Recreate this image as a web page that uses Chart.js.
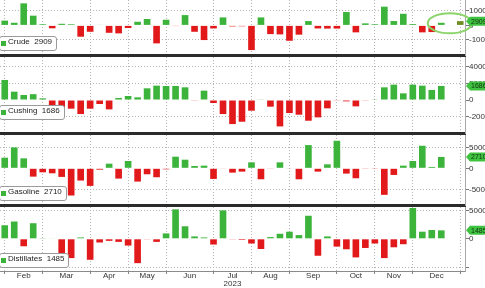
<!DOCTYPE html>
<html>
<head>
<meta charset="utf-8">
<script src="https://cdn.jsdelivr.net/npm/chart.js@4.4.1/dist/chart.umd.min.js"></script>
<style>
html, body { margin: 0; padding: 0; background: #fff; width: 485px; height: 288px; overflow: hidden; }
.panel { position: absolute; left: 0; width: 500px; }
.lg { position: absolute; left: -1px; height: 13px; line-height: 13px; padding: 0 4px 0 8px;
      background: #fff; border: 1px solid #9a9a9a; border-radius: 3px; z-index: 5;
      font: 8px "Liberation Sans", Arial, sans-serif; color: #222; white-space: nowrap; }
.lg i { position: absolute; left: 1px; top: 4px; width: 5px; height: 5px; background: #3cb43c; }
</style>
</head>
<body>
<div class="panel" id="p0" style="top:0;height:58px"><canvas id="c0"></canvas></div>
<div class="panel" id="p1" style="top:57px;height:79px"><canvas id="c1"></canvas></div>
<div class="panel" id="p2" style="top:135px;height:73px"><canvas id="c2"></canvas></div>
<div class="panel" id="p3" style="top:207px;height:81px"><canvas id="c3"></canvas></div>
<script>
// --- data: weekly EIA inventory changes (thousand barrels) ---
const weeks = [
  '2023-01-27','2023-02-03','2023-02-10','2023-02-17','2023-02-24','2023-03-03','2023-03-10',
  '2023-03-17','2023-03-24','2023-03-31','2023-04-07','2023-04-14','2023-04-21','2023-04-28',
  '2023-05-05','2023-05-12','2023-05-19','2023-05-26','2023-06-02','2023-06-09','2023-06-16',
  '2023-06-23','2023-06-30','2023-07-07','2023-07-14','2023-07-21','2023-07-28','2023-08-04',
  '2023-08-11','2023-08-18','2023-08-25','2023-09-01','2023-09-08','2023-09-15','2023-09-22',
  '2023-09-29','2023-10-06','2023-10-13','2023-10-20','2023-10-27','2023-11-03','2023-11-10',
  '2023-11-17','2023-11-24','2023-12-01','2023-12-08','2023-12-15','2023-12-22','2023-12-29'
];
const monthNames = ['Feb','Mar','Apr','May','Jun','Jul','Aug','Sep','Oct','Nov','Dec'];
const yearLabel = '2023';
const yearUnder = 'Jul';

const crude = [3300, 1800, 15200, 6700, 800, -2000, 1100, 800, -7800, -4400,
  400, -5100, -5500, -1800, 2500, 4400, -12400, 3900, -450, 7100,
  -4400, -10100, -2100, 5500, -700, -600, -17000, 5500, -6000, -6200,
  -10600, -6400, 3000, -2100, -2200, -2200, 9200, -4800, 1400, 800,
  12900, 3000, 8000, 900, -4800, -4600, 1800, -300, 2909];
const cushing = [2400, 1000, 600, 700, 200, -880, -1960, -1040, -1680, -1040,
  -480, -1120, 240, 480, 320, 1400, 1720, 1680, 1680, 1520,
  -80, 1120, -360, -1680, -2880, -2600, -1280, 40, -800, -3160,
  -1560, -1760, -2480, -2080, -1000, -40, -160, -760, -40, 40,
  1520, 1840, 800, 1840, 1720, 1200, 1686];
const gasoline = [2530, 4980, 2370, -1980, -950, -1190, -2050, -6480, -2920, -4190,
  -320, 1100, -2450, 1740, -3160, -1420, -2130, -240, 2770, 2050,
  550, 630, -2530, -100, -1030, -790, 1420, -2610, -150, 1420,
  -100, -2610, 5530, -790, 950, 6560, -1260, -2370, -80, -80,
  -6320, -1580, 630, 1740, 5370, 320, 2710];
const distillates = [2380, 3040, -1310, 2740, 120, 100, -2500, -3390, 240, -3690,
  -650, -360, -540, -1190, -4280, -60, -540, 950, 5180, 2200,
  420, 240, -1010, 5000, -60, -190, -830, -1790, 300, 890,
  1250, 650, 4050, -2980, 420, -1370, -1840, -3270, -1610, -830,
  -3390, -1490, -950, 5420, 1250, 1550, 1485];

const crudeTicks = [-10000, 0, 10000];
const cushingTicks = [-2000, 0, 2000, 4000];
const gasolineTicks = [-5000, 0, 5000];
const distillatesTicks = [-5000, 0, 5000];

// --- looks ---
const FONT = '"Liberation Sans", Arial, sans-serif';
const GREEN = '#3cb43c', RED = '#e2191b', CLEAR = 'rgba(0,0,0,0)';

// last week of each month -> dotted vertical lines, month label between them
const monthEnds = weeks.map((d, i) => i)
  .filter(i => i === weeks.length - 1 || weeks[i].slice(5, 7) !== weeks[i + 1].slice(5, 7));
const monthMids = monthEnds.slice(1).map((e, k) => (monthEnds[k] + e) / 2);

function makePanel(id, name, values, min, max, ticks, cfg) {
  const bottom = !!cfg.bottom;
  const hideLabels = cfg.hideLabels || [];
  const last = values[values.length - 1];

  const scales = {
    x: {
      type: 'category', offset: true, weight: 0,
      ticks: { display: false, autoSkip: false },
      grid: {
        offset: false, lineWidth: 1,
        color: c => monthEnds.includes(c.index) ? '#b3b3b3' : CLEAR,
        drawTicks: bottom, tickLength: 3, tickBorderDash: [],
        tickColor: c => monthEnds.includes(c.index) ? '#888' : CLEAR
      },
      border: { display: true, color: bottom ? '#8a8a8a' : '#2b2b2b', width: bottom ? 1 : 3, dash: [1, 2] },
      afterFit: s => { s.height = bottom ? 2 : 3; }
    },
    y: {
      position: 'right', min: min, max: max,
      afterBuildTicks: s => { s.ticks = [min, ...ticks, max].map(v => ({ value: v })); },
      afterFit: s => { s.width = 35; },
      ticks: {
        padding: 0, autoSkip: false, color: '#333', font: { size: 8, family: FONT },
        callback: v => (v === min || v === max || hideLabels.includes(v)) ? [] : String(v)
      },
      grid: {
        lineWidth: 1, tickLength: 4, tickBorderDash: [],
        color: c => (c.tick && [0, min, max].includes(c.tick.value)) ? CLEAR : '#b3b3b3',
        tickColor: c => (c.tick && [min, max].includes(c.tick.value)) ? CLEAR : '#777'
      },
      border: { display: true, color: '#a8a8a8', width: 1, dash: [1, 2] }
    }
  };
  if (bottom) {
    scales.x2 = {
      type: 'linear', position: 'bottom', weight: 1, offset: false,
      min: -0.5, max: weeks.length - 0.5,
      afterBuildTicks: s => { s.ticks = monthMids.map(v => ({ value: v })); },
      afterFit: s => { s.height = 15; },
      ticks: {
        autoSkip: false, maxRotation: 0, padding: -1, color: '#333',
        font: { size: 8, family: FONT, lineHeight: 1 },
        callback: (v, i) => monthNames[i] === yearUnder ? [monthNames[i], yearLabel] : monthNames[i]
      },
      grid: { display: false, drawTicks: false },
      border: { display: false }
    };
  }

  const tag = {
    id: 'tag' + id,
    afterDatasetsDraw(chart) {
      if (cfg.circle) cfg.circle(chart);
    },
    afterDraw(chart) {
      const ctx = chart.ctx;
      const y = chart.scales.y.getPixelForValue(last);
      const x0 = chart.chartArea.right + 1;
      ctx.save();
      ctx.fillStyle = '#3fc23f';
      ctx.beginPath();
      ctx.moveTo(x0, y);
      ctx.lineTo(x0 + 4, y - 4.5);
      ctx.lineTo(x0 + 40, y - 4.5);
      ctx.lineTo(x0 + 40, y + 4.5);
      ctx.lineTo(x0 + 4, y + 4.5);
      ctx.closePath();
      ctx.fill();
      ctx.fillStyle = '#113311';
      ctx.font = '7px ' + FONT;
      ctx.textBaseline = 'middle';
      ctx.fillText(String(last), x0 + 5, y + 0.5);
      ctx.restore();
    }
  };

  new Chart(document.getElementById(id), {
    type: 'bar',
    data: {
      labels: weeks,
      datasets: [{
        label: name,
        data: values,
        backgroundColor: c => cfg.color ? cfg.color(c) : (c.raw >= 0 ? GREEN : RED),
        barPercentage: 0.7,
        categoryPercentage: 1
      }]
    },
    options: {
      responsive: true,
      maintainAspectRatio: false,
      animation: false,
      layout: { padding: 0 },
      plugins: { legend: { display: false }, tooltip: { enabled: false } },
      scales: scales
    },
    plugins: [tag]
  });

  const box = document.createElement('div');
  box.className = 'lg';
  box.style.top = cfg.legendTop + 'px';
  box.innerHTML = '<i></i>' + name + '&nbsp; ' + last;
  document.body.appendChild(box);
}

// --- panels ---
makePanel('c0', 'Crude', crude, -20400, 17500, crudeTicks, {
  legendTop: 36,
  color: c => c.dataIndex === 48 ? '#6f8b23' : c.dataIndex === 47 ? '#b39a5a' : (c.raw >= 0 ? GREEN : RED),
  circle: chart => {
    const ctx = chart.ctx;
    const cx = chart.scales.x.getPixelForValue(47) - 1;
    const cy = chart.scales.y.getPixelForValue(1500);
    ctx.save();
    ctx.strokeStyle = '#8bd46a';
    ctx.lineWidth = 2;
    ctx.beginPath();
    ctx.ellipse(cx, cy, 22, 10, 0, 0, Math.PI * 2);
    ctx.stroke();
    ctx.restore();
  }
});
makePanel('c1', 'Cushing', cushing, -3950, 5150, cushingTicks, { legendTop: 105 });
makePanel('c2', 'Gasoline', gasoline, -8737, 7930, gasolineTicks, { legendTop: 186 });
makePanel('c3', 'Distillates', distillates, -5660, 5590, distillatesTicks, { legendTop: 253, bottom: true, hideLabels: [-5000] });
</script>
</body>
</html>
